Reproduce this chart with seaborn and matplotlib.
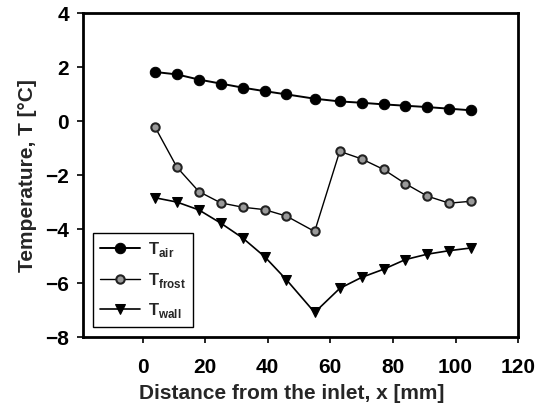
import matplotlib
matplotlib.use("Agg")
import matplotlib.pyplot as plt
import seaborn as sns
import pandas as pd

# distance from inlet [mm]
x_mm = [4, 11, 18, 25, 32, 39, 46, 55, 63, 70, 77, 84, 91, 98, 105]

t_air = [1.82, 1.73, 1.54, 1.39, 1.24, 1.11, 0.99, 0.83, 0.73, 0.68,
         0.62, 0.57, 0.52, 0.46, 0.40]
t_frost = [-0.22, -1.71, -2.61, -3.03, -3.19, -3.28, -3.52, -4.09, -1.12,
           -1.40, -1.79, -2.32, -2.78, -3.04, -2.97]
t_wall = [-2.84, -3.00, -3.29, -3.78, -4.33, -5.02, -5.88, -7.09, -6.20,
          -5.79, -5.49, -5.13, -4.93, -4.80, -4.70]

x_ticks = [0, 20, 40, 60, 80, 100, 120]
y_ticks = [-8, -6, -4, -2, 0, 2, 4]

sns.set_style("ticks")
plt.rcParams["font.family"] = ["Liberation Sans", "DejaVu Sans"]
plt.rcParams["font.weight"] = "bold"
plt.rcParams["mathtext.fontset"] = "custom"
plt.rcParams["mathtext.rm"] = "Liberation Sans:bold"
plt.rcParams["mathtext.bf"] = "Liberation Sans:bold"

df = pd.DataFrame({"x": x_mm, "air": t_air, "frost": t_frost, "wall": t_wall})

fig = plt.figure(figsize=(5.5, 4.11), dpi=100)
ax = fig.add_axes([0.151, 0.180, 0.791, 0.788])

sns.lineplot(data=df, x="x", y="air", ax=ax, color="black", lw=1.4,
             marker="o", markersize=7.5, markerfacecolor="black",
             markeredgecolor="black", label=r"T$_{\mathbf{air}}$")
sns.lineplot(data=df, x="x", y="frost", ax=ax, color="black", lw=1.0,
             marker="o", markersize=6, markerfacecolor="#9a9a9a",
             markeredgecolor="#222222", markeredgewidth=1.5,
             label=r"T$_{\mathbf{frost}}$")
sns.lineplot(data=df, x="x", y="wall", ax=ax, color="black", lw=1.2,
             marker="v", markersize=7.5, markerfacecolor="black",
             markeredgecolor="black", label=r"T$_{\mathbf{wall}}$")

ax.set_xlim(-19, 120)
ax.set_ylim(-8, 4)
ax.set_xticks(x_ticks)
ax.set_yticks(y_ticks)
ax.tick_params(axis="both", direction="out", length=4, width=1.2,
               labelsize=15, colors="black")
ax.tick_params(axis="x", pad=11)
ax.tick_params(axis="y", pad=6)
for lab in ax.get_xticklabels() + ax.get_yticklabels():
    lab.set_fontweight("bold")
for sp in ax.spines.values():
    sp.set_visible(True)
    sp.set_linewidth(2)
    sp.set_color("black")

ax.set_xlabel("Distance from the inlet, x [mm]", fontsize=15,
              fontweight="bold")
ax.xaxis.set_label_coords(0.48, -0.145)
ax.set_ylabel("Temperature, T [\u00b0C]", fontsize=15, fontweight="bold",
              labelpad=6)

leg = ax.legend(loc="lower left", bbox_to_anchor=(0.023, 0.031),
                borderaxespad=0, fancybox=False, edgecolor="black",
                framealpha=1, fontsize=12, handlelength=2.4,
                handletextpad=0.5, labelspacing=0.7)
leg.get_frame().set_linewidth(1.0)

fig.savefig("out.png", dpi=100)
